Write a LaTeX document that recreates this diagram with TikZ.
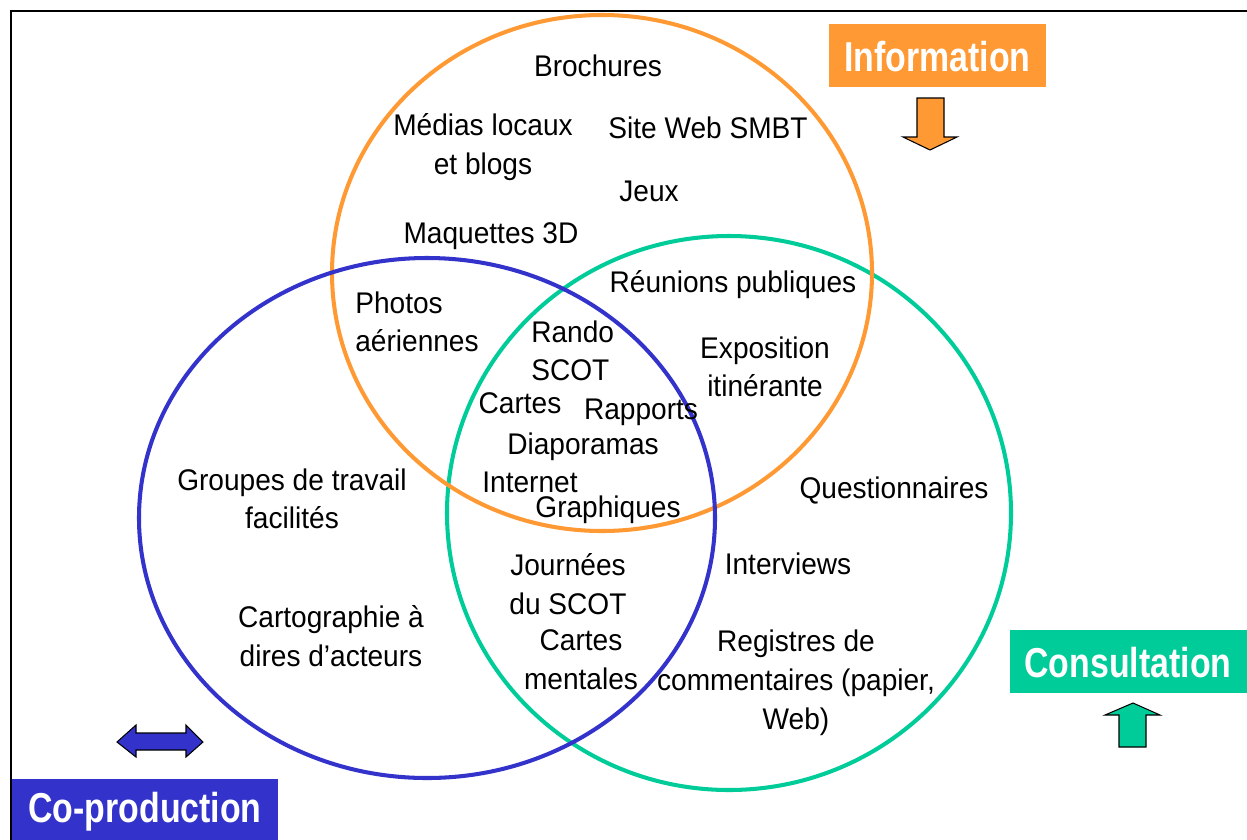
\documentclass[tikz,border=0pt]{standalone}
\usepackage{fontspec}
\setmainfont[FakeStretch=0.94]{Liberation Sans}
\newfontfamily\titlefont[FakeStretch=0.81]{Liberation Sans}
\usepackage{tikz}
\usetikzlibrary{positioning}

\definecolor{infoorange}{HTML}{FF9933}
\definecolor{consgreen}{HTML}{00CC99}
\definecolor{coblue}{HTML}{3333CC}

\begin{document}
\begin{tikzpicture}[x=0.02cm,y=-0.02cm,
	item/.style={inner sep=0pt,align=center,yshift=-1pt,font=\fontsize{17}{22.1}\selectfont},
	title/.style={inner sep=0pt,text=white,font=\titlefont\bfseries\fontsize{23.8}{26}\selectfont},
	ring/.style={line width=2.3pt},
	block/.style={draw=black,line width=0.6pt}]
	\useasboundingbox (0,0) rectangle (1247,839);
	\clip (0,0) rectangle (1247,839);
	% frame
	\draw [line width=1.3pt] (11,850) -- (11,11) -- (1260,11);
	% the three sets
	\draw [ring,consgreen] (729,513) ellipse [x radius=282,y radius=277];
	\draw [ring,infoorange] (602,273) ellipse [x radius=270,y radius=258];
	\draw [ring,coblue] (427,518) ellipse [x radius=288,y radius=260];
	% labels of the sets
	\fill [infoorange] (829,24) rectangle (1046,87);
	\node [title] (information) at (937.5,57) {Information};
	\fill [consgreen] (1010,630) rectangle (1260,693);
	\node [title] (consultation) at (1128,663) {Consultation};
	\fill [coblue] (12,779) rectangle (278,850);
	\node [title] (coproduction) at (145,812) {Co-production};
	% arrows
	\filldraw [block,fill=infoorange] (917,98) -- (944,98) -- (944,137) -- (957,137)
		-- (930,150) -- (903,137) -- (917,137) -- cycle;
	\filldraw [block,fill=consgreen] (1119,747) -- (1146,747) -- (1146,715) -- (1160,715)
		-- (1133,703) -- (1105,715) -- (1119,715) -- cycle;
	\filldraw [block,fill=coblue] (117,742) -- (136,725) -- (136,733) -- (186,733)
		-- (186,725) -- (203,742) -- (186,757) -- (186,750) -- (136,750) -- (136,757) -- cycle;
	% information only
	\node [item] (brochures) at (598,64) {Brochures};
	\node [item] (medias) at (483,145) {Médias locaux\\et blogs};
	\node [item] (siteweb) at (708,126) {Site Web SMBT};
	\node [item] (jeux) at (649,190) {Jeux};
	\node [item] (maquettes) at (491,234) {Maquettes 3D};
	% information and consultation
	\node [item] (reunions) at (733,283) {Réunions publiques};
	\node [item] (exposition) at (765,365) {Exposition\\itinérante};
	% information and co-production
	\node [item,align=left,anchor=west] (photos) at (355,320) {Photos\\aériennes};
	% all three
	\node [item,align=left,anchor=west] (rando) at (531,349) {Rando\\SCOT};
	\node [item] (cartes) at (520,401) {Cartes};
	\node [item] (rapports) at (641,411) {Rapports};
	\node [item] (diaporamas) at (583,445) {Diaporamas};
	\node [item] (internet) at (530,481) {Internet};
	\node [item] (graphiques) at (608,508) {Graphiques};
	% consultation only
	\node [item] (questionnaires) at (894,489) {Questionnaires};
	\node [item] (interviews) at (788,562) {Interviews};
	\node [item] (registres) at (796,681) {Registres de\\commentaires (papier,\\Web)};
	% co-production and consultation
	\node [item] (journees) at (568,582) {Journées\\du SCOT};
	\node [item] (mentales) at (581,658) {Cartes\\mentales};
	% co-production only
	\node [item] (groupes) at (292,497) {Groupes de travail\\facilités};
	\node [item] (cartographie) at (331,634) {Cartographie à\\dires d’acteurs};
\end{tikzpicture}
\end{document}
